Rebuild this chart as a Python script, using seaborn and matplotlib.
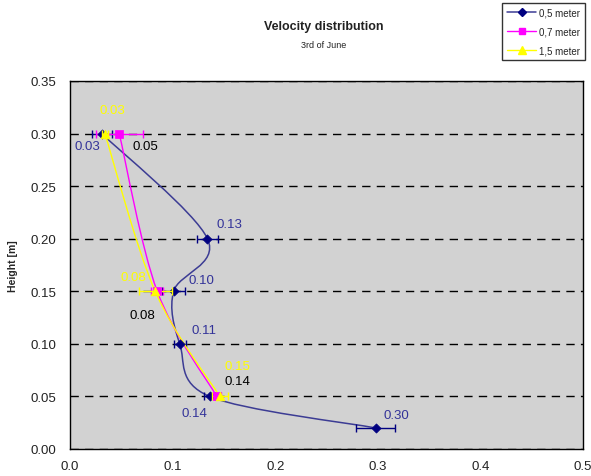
import matplotlib
matplotlib.use('Agg')
import matplotlib.pyplot as plt
from matplotlib.path import Path
from matplotlib.patches import PathPatch
from matplotlib.lines import Line2D
import seaborn as sns
import numpy as np

# Daten
series_names = ['0,5 meter', '0,7 meter', '1,5 meter']

height_05 = [0.02, 0.05, 0.10, 0.15, 0.20, 0.30]
vel_05 = [0.298, 0.136, 0.107, 0.101, 0.134, 0.031]
err_05 = [0.019, 0.005, 0.006, 0.011, 0.010, 0.010]
lab_05 = ['0.30', '0.14', '0.11', '0.10', '0.13', '0.03']

height_07 = [0.05, 0.15, 0.30]
vel_07 = [0.143, 0.085, 0.048]
err_07 = [0.004, 0.006, 0.023]
lab_07 = ['0.14', '0.08', '0.05']

height_15 = [0.05, 0.15, 0.30]
vel_15 = [0.146, 0.083, 0.034]
err_15 = [0.008, 0.016, 0.003]
lab_15 = ['0.15', '0.08', '0.03']

# Label-Versatz in Pixeln
off_05 = [(21, 13), (-15, -17), (24, 14), (28, 11), (22, 15), (-14, -12)]
off_07 = [(21, 15), (-15, -24), (26, -12)]
off_15 = [(18, 30), (-22, 14), (7, 24)]

c_blue = '#000080'
c_blue_line = '#3c3c94'
c_pink = '#ff00ff'
c_yell = '#ffff00'

##################################################################

sns.set_style('white')
plt.rcParams['font.family'] = ['Liberation Sans', 'DejaVu Sans']

fig = plt.figure(figsize=(5.91, 4.77), dpi=100)
ax = fig.add_axes([70 / 591, 27 / 477, 513 / 591, 368 / 477])
ax.set_facecolor('#d2d2d2')
ax.set_xlim(0, 0.5)
ax.set_ylim(0, 0.35)
W, H = 513.0, 368.0


def smooth_path(x, y):
    # Catmull-Rom -> Bezier im Bildschirmraum (wie Excel-Glaettung)
    p = np.column_stack([np.asarray(x) / 0.5 * W, np.asarray(y) / 0.35 * H])
    verts = [p[0]]
    codes = [Path.MOVETO]
    n = len(p)
    for i in range(n - 1):
        p0 = p[max(i - 1, 0)]
        p1 = p[i]
        p2 = p[i + 1]
        p3 = p[min(i + 2, n - 1)]
        c1 = p1 + (p2 - p0) / 6.0
        c2 = p2 - (p3 - p1) / 6.0
        verts += [c1, c2, p2]
        codes += [Path.CURVE4] * 3
    verts = np.array(verts)
    verts[:, 0] = verts[:, 0] / W * 0.5
    verts[:, 1] = verts[:, 1] / H * 0.35
    return Path(verts, codes)


series = [
    (vel_05, height_05, err_05, lab_05, off_05, c_blue, c_blue_line, 'D', 22, c_blue, 1.1),
    (vel_07, height_07, err_07, lab_07, off_07, c_pink, c_pink, 's', 30, 'black', 1.0),
    (vel_15, height_15, err_15, lab_15, off_15, c_yell, c_yell, '^', 40, c_yell, 1.0),
]

for i, (v, h, e, lab, off, col, lcol, mk, ms, tcol, lw) in enumerate(series):
    ax.add_patch(PathPatch(smooth_path(v, h), fill=False, edgecolor=lcol,
                           lw=lw, zorder=3 + i))
    ax.errorbar(v, h, xerr=e, fmt='none', ecolor=col, elinewidth=1.0,
                capsize=3, capthick=1.0, zorder=4 + i)
    sns.scatterplot(x=v, y=h, marker=mk, color=col, s=ms, edgecolor=col,
                    linewidth=0.5, ax=ax, zorder=6 + i)
    for vi, hi, t, o in zip(v, h, lab, off):
        ax.annotate(t, (vi, hi), xytext=o, textcoords='offset pixels',
                    ha='center', va='center',
                    color='#333399' if tcol == c_blue else tcol,
                    fontsize=9.5, zorder=10)

# Achsen
ax.set_xticks(np.arange(0, 0.51, 0.1))
ax.set_xticklabels(['0.0', '0.1', '0.2', '0.3', '0.4', '0.5'])
ax.set_yticks(np.arange(0, 0.351, 0.05))
ax.set_yticklabels(['%.2f' % t for t in np.arange(0, 0.351, 0.05)])
ax.tick_params(axis='both', direction='out', length=5, width=1,
               color='black', labelsize=9.5, labelcolor='#222222', pad=5)
ax.tick_params(axis='x', pad=3)
ax.yaxis.grid(True, linestyle=(0, (6, 4.5)), color='black', lw=1)
ax.xaxis.grid(False)
for s in ax.spines.values():
    s.set_color('black')
    s.set_linewidth(1)
ax.set_xlabel('')
ax.set_ylabel('Height [m]', fontsize=7.5, fontweight='bold')
ax.yaxis.set_label_coords(-0.101, 0.5)

fig.text(324 / 591, 1 - 27 / 477, 'Velocity distribution', ha='center',
         va='center', fontsize=9, fontweight='bold', color='#222222')
fig.text(324 / 591, 1 - 45 / 477, '3rd of June', ha='center', va='center',
         fontsize=6.5, color='#222222')

handles = [
    Line2D([], [], color=c_blue_line, marker='D', markersize=4, lw=1.1,
           markerfacecolor=c_blue, markeredgecolor=c_blue),
    Line2D([], [], color=c_pink, marker='s', markersize=5, lw=1.0),
    Line2D([], [], color=c_yell, marker='^', markersize=6, lw=1.0),
]
leg = fig.legend(handles, series_names, loc='upper right',
                 bbox_to_anchor=(585 / 591, 1 - 4 / 477), fontsize=7,
                 frameon=True, fancybox=False, edgecolor='black',
                 handlelength=3.0, labelspacing=0.9, borderpad=0.5,
                 handletextpad=0.3, borderaxespad=0)
leg.get_frame().set_linewidth(1)

plt.savefig('out.png', dpi=100)
